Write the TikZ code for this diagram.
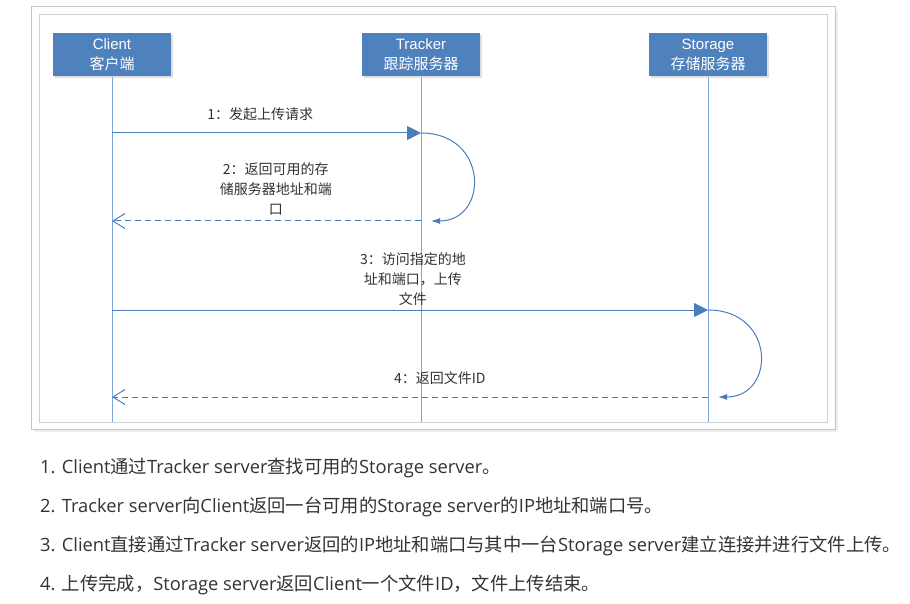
\documentclass[tikz,border=0pt]{standalone}
\usepackage{fontspec}
\setmainfont{Open Sans}
\newfontfamily\zhfont{Noto Sans CJK SC}
\newfontfamily\boxfont{Liberation Sans}
\newcommand\zh[1]{{\zhfont #1}}
\usetikzlibrary{arrows.meta,shadows}

\definecolor{boxblue}{HTML}{4F81BD}
\definecolor{lifeblue}{HTML}{7EA6D9}
\definecolor{msgblue}{HTML}{4A7EBB}
\definecolor{txtgrey}{HTML}{333333}
\definecolor{framegrey}{HTML}{C4C4C4}

\tikzset{
  actor/.style={fill=boxblue, text=white, minimum width=118pt, minimum height=43pt,
    align=center, inner sep=0pt, font=\boxfont\fontsize{15}{20}\selectfont,
    drop shadow={shadow xshift=1.5pt, shadow yshift=-1.5pt, opacity=.25}},
  lifeline/.style={draw=lifeblue, line width=1pt},
  call/.style={draw=msgblue, line width=1pt, -{Triangle[length=14pt,width=14pt]}},
  reply/.style={draw=msgblue, line width=1pt, dash pattern=on 6pt off 4pt,
    -{Straight Barb[length=12pt,width=15pt]}},
  selfloop/.style={draw=msgblue, line width=1pt, -{Latex[length=9pt,width=6pt]}},
  msg/.style={font=\zhfont\fontsize{14}{20}\selectfont, text=txtgrey, align=center, inner sep=0pt},
  stepline/.style={anchor=base west, inner sep=0pt, text=txtgrey, font=\fontsize{18.3}{20}\selectfont},
}

\begin{document}
\begin{tikzpicture}[x=1pt,y=-1pt]
  \useasboundingbox (0,0) rectangle (910,604);
  \fill[white] (0,0) rectangle (910,604);

  % frame
  \draw[draw=framegrey, fill=white, line width=1pt,
    drop shadow={shadow xshift=3pt, shadow yshift=-3pt, opacity=.12}] (31,7) rectangle (835,429);
  \draw[draw=framegrey!80, line width=1pt] (39,15) rectangle (827,422);

  % actors
  \node[actor] (client) at (112,55) {Client\\\zh{客户端}};
  \node[actor] (tracker) at (421,55) {Tracker\\\zh{跟踪服务器}};
  \node[actor] (storage) at (708,55) {Storage\\\zh{存储服务器}};

  % lifelines
  \coordinate (clientend) at (client.south |- 0,422);
  \coordinate (trackerend) at (tracker.south |- 0,422);
  \coordinate (storageend) at (storage.south |- 0,422);
  \draw[lifeline] (client) -- (clientend);
  \draw[lifeline] (tracker) -- (trackerend);
  \draw[lifeline] (storage) -- (storageend);

  % message points
  \coordinate (c1) at (client.south |- 0,133);
  \coordinate (t1) at (tracker.south |- 0,133);
  \coordinate (t2) at (tracker.south |- 0,221);
  \coordinate (c2) at (client.south |- 0,221);
  \coordinate (c3) at (client.south |- 0,310);
  \coordinate (s3) at (storage.south |- 0,310);
  \coordinate (s4) at (storage.south |- 0,397);
  \coordinate (c4) at (client.south |- 0,397);

  % messages
  \draw[call] (c1) -- node[msg, pos=.48, above=12pt] {1：发起上传请求} (t1);
  \draw[selfloop] (t1) .. controls +(68,0) and +(58,0) .. ([xshift=10pt]t2);
  \draw[reply] (t2) -- node[msg, pos=.47, above=5pt] {2：返回可用的存\\储服务器地址和端\\口} (c2);
  \draw[call] (c3) -- node[msg, pos=.505, above=4pt] {3：访问指定的地\\址和端口，上传\\文件} (s3);
  \draw[selfloop] (s3) .. controls +(68,0) and +(58,0) .. ([xshift=10pt]s4);
  \draw[reply] (s4) -- node[msg, pos=.45, above=12pt] {4：返回文件ID} (c4);

  % steps
  \node[stepline] (step1) at (40,473) {1. Client\zh{通过}Tracker server\zh{查找可用的}Storage server\zh{。}};
  \node[stepline] (step2) at (40,512) {2. Tracker server\zh{向}Client\zh{返回一台可用的}Storage server\zh{的}IP\zh{地址和端口号。}};
  \node[stepline] (step3) at (40,551) {3. Client\zh{直接通过}Tracker server\zh{返回的}IP\zh{地址和端口与其中一台}Storage server\zh{建立连接并进行文件上传。}};
  \node[stepline] (step4) at (40,590) {4. \zh{上传完成，}Storage server\zh{返回}Client\zh{一个文件}ID\zh{，文件上传结束。}};
\end{tikzpicture}
\end{document}
